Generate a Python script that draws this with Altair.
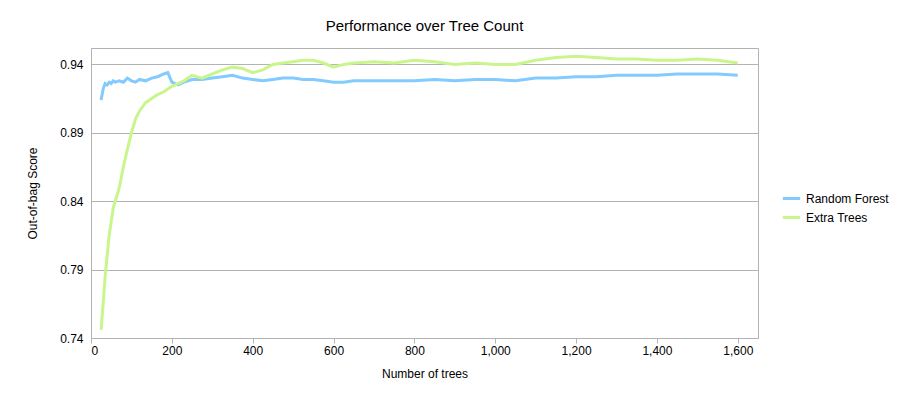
import altair as alt
import pandas as pd

trees = [25, 30, 35, 40, 45, 50, 55, 60, 70, 80, 90, 100, 110, 120, 135, 150, 165, 180, 190,
         200, 215, 230, 250, 275, 300, 325, 350, 375, 400, 425, 450, 475, 500, 525, 550, 575,
         600, 625, 650, 700, 750, 800, 850, 900, 950, 1000, 1050, 1100, 1150, 1200, 1250,
         1300, 1350, 1400, 1450, 1500, 1550, 1600]

random_forest = [0.914, 0.922, 0.926, 0.925, 0.927, 0.926, 0.928, 0.927, 0.928, 0.927, 0.930, 0.928,
                 0.927, 0.929, 0.928, 0.930, 0.931, 0.933, 0.934, 0.927, 0.925, 0.927, 0.929, 0.929,
                 0.930, 0.931, 0.932, 0.930, 0.929, 0.928, 0.929, 0.930, 0.930, 0.929, 0.929, 0.928,
                 0.927, 0.927, 0.928, 0.928, 0.928, 0.928, 0.929, 0.928, 0.929, 0.929, 0.928, 0.930,
                 0.930, 0.931, 0.931, 0.932, 0.932, 0.932, 0.933, 0.933, 0.933, 0.932]

extra_trees = [0.746, 0.765, 0.785, 0.800, 0.815, 0.825, 0.835, 0.840, 0.850, 0.865, 0.878, 0.890,
               0.900, 0.906, 0.912, 0.915, 0.918, 0.920, 0.922, 0.924, 0.926, 0.928, 0.932, 0.930,
               0.933, 0.936, 0.938, 0.937, 0.934, 0.936, 0.940, 0.941, 0.942, 0.943, 0.943, 0.941,
               0.938, 0.940, 0.941, 0.942, 0.941, 0.943, 0.942, 0.940, 0.941, 0.940, 0.940, 0.943,
               0.945, 0.946, 0.945, 0.944, 0.944, 0.943, 0.943, 0.944, 0.943, 0.941]

df = pd.DataFrame({
    "trees": trees * 2,
    "score": random_forest + extra_trees,
    "series": ["Random Forest"] * len(trees) + ["Extra Trees"] * len(trees),
})

chart = alt.Chart(df).mark_line(strokeWidth=3).encode(
    alt.X("trees:Q", title="Number of trees",
          scale=alt.Scale(domain=[0, 1650], nice=False),
          axis=alt.Axis(values=list(range(0, 1601, 200)), grid=False, tickSize=5, titlePadding=12)),
    alt.Y("score:Q", title="Out-of-bag Score",
          scale=alt.Scale(domain=[0.74, 0.952], nice=False),
          axis=alt.Axis(values=[0.74, 0.79, 0.84, 0.89, 0.94], format=".2f", gridColor="#b3b3b3",
                        tickSize=0, labelPadding=8, titlePadding=20)),
    alt.Color("series:N", sort=["Random Forest", "Extra Trees"],
              scale=alt.Scale(domain=["Random Forest", "Extra Trees"], range=["#83caff", "#c9f58c"]),
              legend=alt.Legend(title=None, orient="none", legendX=690, legendY=140,
                                symbolType="stroke", symbolStrokeWidth=3, symbolSize=300,
                                labelFontSize=12, labelColor="#000")),
).properties(
    width=667, height=290,
    title=alt.TitleParams("Performance over Tree Count", fontSize=15, fontWeight="normal", offset=14),
    autosize="none",
    padding={"left": 83, "top": 40, "right": 148, "bottom": 62},
).configure_view(stroke="#b3b3b3").configure_axis(
    labelFont="Liberation Sans", titleFont="Liberation Sans", labelFontSize=12, titleFontSize=12,
    titleFontWeight="normal", labelColor="#000", titleColor="#000", domainColor="#b3b3b3", tickColor="#b3b3b3"
).configure_title(font="Liberation Sans", color="#000").configure_legend(labelFont="Liberation Sans")

chart.save("out.html", embed_options={"renderer": "svg", "actions": False})
